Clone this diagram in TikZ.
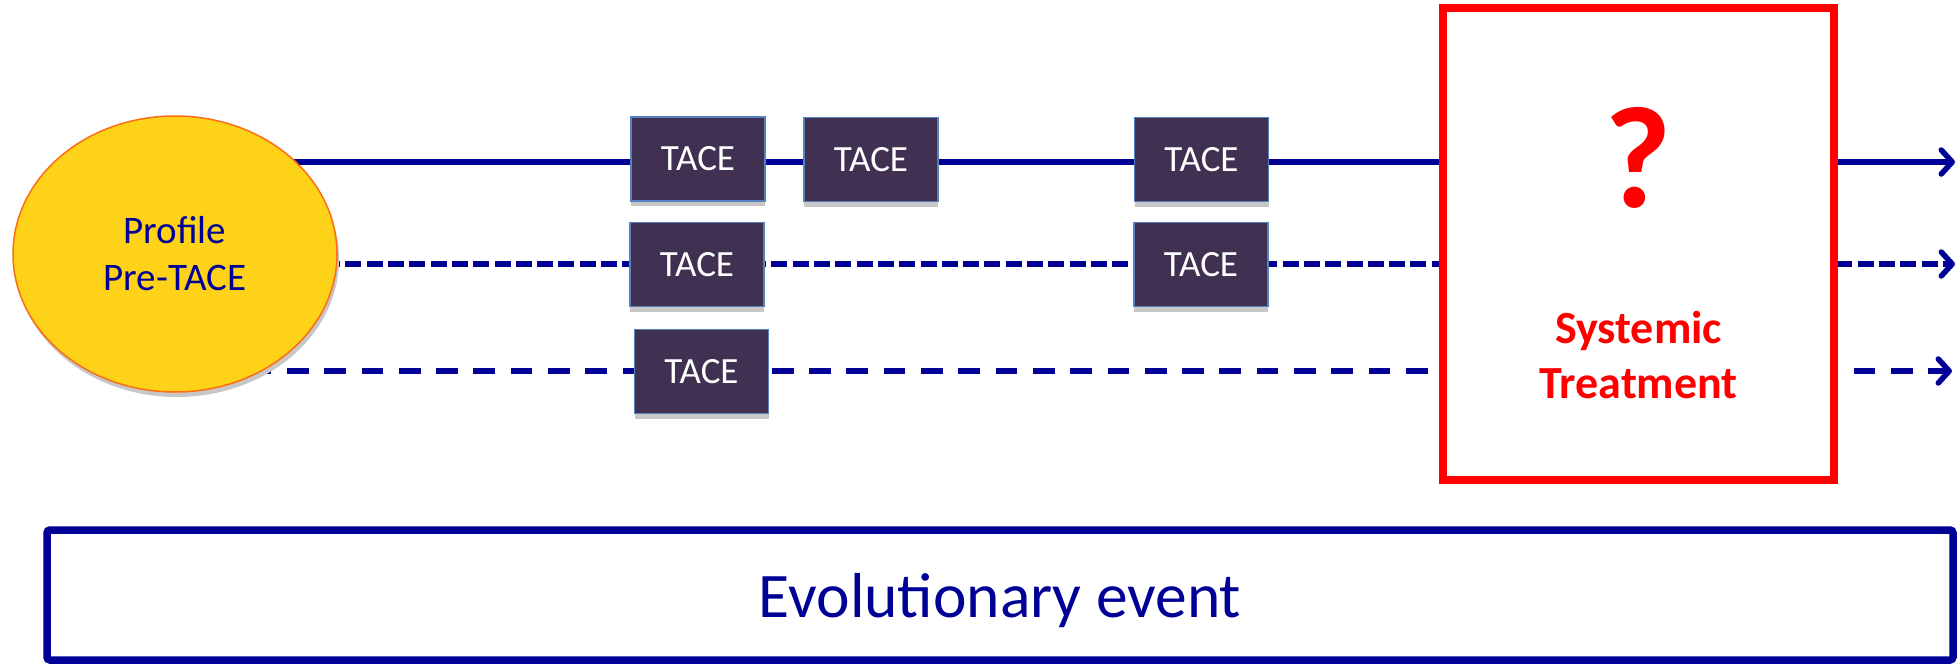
\documentclass[tikz,border=0pt]{standalone}
\usepackage{fontspec}
\setmainfont{Carlito}
\usetikzlibrary{arrows.meta,shadows,backgrounds,shapes.geometric}

\definecolor{navy}{RGB}{0,0,150}
\definecolor{tacefill}{RGB}{64,49,82}
\definecolor{taceedge}{RGB}{84,130,190}
\definecolor{gold}{RGB}{253,210,25}
\definecolor{goldedge}{RGB}{250,110,20}
\definecolor{alertred}{RGB}{255,0,0}

\begin{document}
\begin{tikzpicture}[x=1pt,y=-1pt,
  tacebox/.style={draw=taceedge, line width=1.5pt, fill=tacefill, text=white,
    minimum width=134pt, minimum height=84pt, inner sep=0pt,
    font=\fontsize{37}{44}\selectfont,
    drop shadow={shadow xshift=0pt, shadow yshift=-5pt, fill=black!22, opacity=1}},
  profile/.style={ellipse, draw=goldedge, line width=1.5pt, fill=gold, text=navy,
    minimum width=324pt, minimum height=276pt, inner sep=0pt, align=center,
    font=\fontsize{39}{47}\selectfont,
    drop shadow={shadow xshift=2pt, shadow yshift=-5pt, fill=black!22, opacity=1}},
  track/.style={draw=navy, line width=5.5pt,
    -{Straight Barb[length=11pt, width=24pt, round]}},
  shortdash/.style={dash pattern=on 16pt off 5.3pt},
  longdash/.style={dash pattern=on 21.7pt off 15.6pt},
  redframe/.style={draw=alertred, line width=8pt, fill=white,
    minimum width=391pt, minimum height=472pt, inner sep=0pt},
  redtext/.style={text=alertred, font=\bfseries\fontsize{46}{55}\selectfont, inner sep=0pt, anchor=base},
  eventbox/.style={draw=navy, line width=7.5pt, rounded corners=3pt,
    minimum width=1906pt, minimum height=130pt, inner sep=0pt, text=navy,
    text height=44pt, text depth=0pt, font=\fontsize{63.5}{76}\selectfont}
]
\useasboundingbox (0,0) rectangle (1959,664);

% starting profile
\node[profile] (pre) at (175,254) {Profile\\Pre-TACE};

% TACE sessions on each course
\node[tacebox] (t1) at (698,159) {TACE};
\node[tacebox] (t2) at (871,159.5) {TACE};
\node[tacebox] (t3) at (1201.5,159.5) {TACE};
\node[tacebox] (m1) at (697,264.5) {TACE};
\node[tacebox] (m2) at (1201,264.5) {TACE};
\node[tacebox] (b1) at (701.5,371.5) {TACE};

% systemic treatment frame
\node[redframe] (sys) at (1638.5,244) {};
\node[redtext, font=\bfseries\fontsize{145}{150}\selectfont] (q) at ([yshift=37pt]sys.center) {?};
\node[redtext] (sys1) at ([yshift=-99pt]sys.center) {Systemic};
\node[redtext] (sys2) at ([yshift=-154pt]sys.center) {Treatment};

% ends of the courses
\coordinate (endA) at (1955,162);
\coordinate (endB) at (1955,264);
\coordinate (endC) at (1952,371);

\begin{pgfonlayer}{background}
  \draw[track] (pre.center |- endA) -- (endA);
  \draw[track, shortdash] (pre.center |- endB) -- (endB);
  \draw[track, longdash] (pre.center |- endC) -- (endC);
\end{pgfonlayer}

% bottom banner
\node[eventbox] (evt) at (1000,595) {Evolutionary event};
\end{tikzpicture}
\end{document}
